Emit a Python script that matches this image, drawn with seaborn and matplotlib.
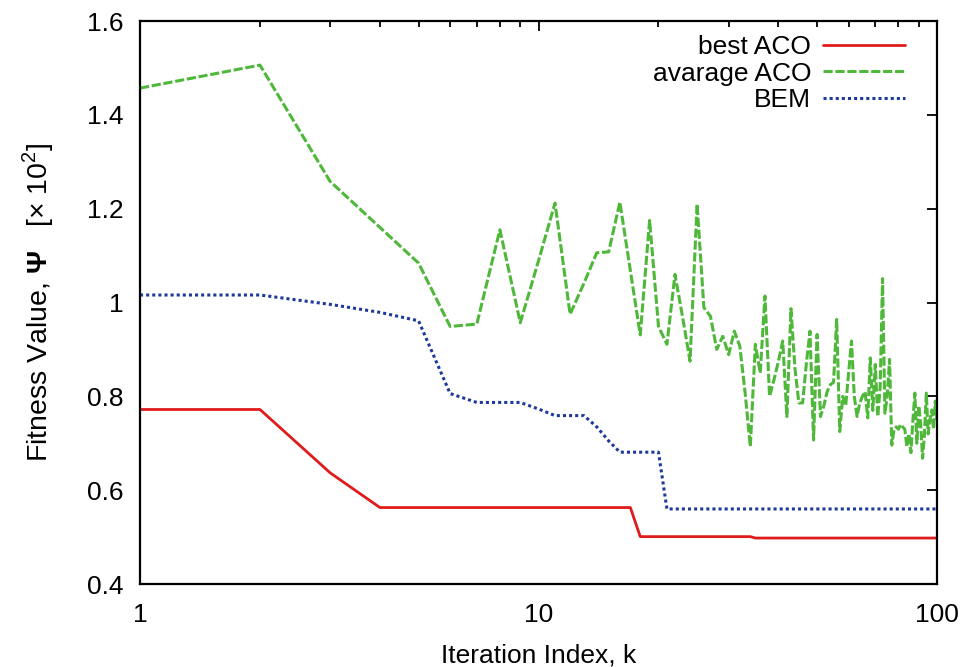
import matplotlib
matplotlib.use("Agg")
import matplotlib.pyplot as plt
from matplotlib.ticker import FixedLocator, FixedFormatter, NullFormatter
import pandas as pd
import seaborn as sns

# Iteration index k = 1 .. 100
iterations = list(range(1, 101))

# Fitness value (x 10^2) of the best ant per iteration
best_aco = [
    0.772, 0.772, 0.637, 0.563, 0.563, 0.563, 0.563, 0.563, 0.563, 0.563,
    0.563, 0.563, 0.563, 0.563, 0.563, 0.563, 0.563, 0.501, 0.501, 0.501,
    0.501, 0.501, 0.501, 0.501, 0.501, 0.501, 0.501, 0.501, 0.501, 0.501,
    0.501, 0.501, 0.501, 0.501, 0.498, 0.498, 0.498, 0.498, 0.498, 0.498,
    0.498, 0.498, 0.498, 0.498, 0.498, 0.498, 0.498, 0.498, 0.498, 0.498,
    0.498, 0.498, 0.498, 0.498, 0.498, 0.498, 0.498, 0.498, 0.498, 0.498,
    0.498, 0.498, 0.498, 0.498, 0.498, 0.498, 0.498, 0.498, 0.498, 0.498,
    0.498, 0.498, 0.498, 0.498, 0.498, 0.498, 0.498, 0.498, 0.498, 0.498,
    0.498, 0.498, 0.498, 0.498, 0.498, 0.498, 0.498, 0.498, 0.498, 0.498,
    0.498, 0.498, 0.498, 0.498, 0.498, 0.498, 0.498, 0.498, 0.498, 0.498,
]

# Average fitness of the colony per iteration
avg_aco = [
    1.457, 1.506, 1.258, 1.160, 1.084, 0.949, 0.954, 1.155, 0.957, 1.089,
    1.212, 0.975, 1.041, 1.106, 1.108, 1.214, 1.068, 0.931, 1.175, 0.949,
    0.911, 1.060, 0.968, 0.875, 1.210, 0.989, 0.971, 0.900, 0.928, 0.889,
    0.939, 0.907, 0.807, 0.693, 0.911, 0.850, 1.014, 0.800, 0.836, 0.875,
    0.918, 0.757, 0.987, 0.860, 0.786, 0.786, 0.870, 0.939, 0.707, 0.932,
    0.757, 0.780, 0.810, 0.825, 0.830, 0.964, 0.725, 0.800, 0.780, 0.850,
    0.918, 0.800, 0.757, 0.786, 0.800, 0.810, 0.754, 0.882, 0.770, 0.868,
    0.757, 0.820, 1.051, 0.764, 0.800, 0.879, 0.696, 0.729, 0.735, 0.730,
    0.740, 0.735, 0.730, 0.693, 0.720, 0.680, 0.750, 0.807, 0.700, 0.780,
    0.740, 0.668, 0.720, 0.807, 0.720, 0.750, 0.771, 0.730, 0.790, 0.750,
]

# Fitness value obtained with BEM per iteration
bem = [
    1.016, 1.016, 0.996, 0.979, 0.961, 0.806, 0.787, 0.787, 0.787, 0.773,
    0.759, 0.759, 0.759, 0.735, 0.705, 0.681, 0.681, 0.681, 0.681, 0.681,
    0.560, 0.560, 0.560, 0.560, 0.560, 0.560, 0.560, 0.560, 0.560, 0.560,
    0.560, 0.560, 0.560, 0.560, 0.560, 0.560, 0.560, 0.560, 0.560, 0.560,
    0.560, 0.560, 0.560, 0.560, 0.560, 0.560, 0.560, 0.560, 0.560, 0.560,
    0.560, 0.560, 0.560, 0.560, 0.560, 0.560, 0.560, 0.560, 0.560, 0.560,
    0.560, 0.560, 0.560, 0.560, 0.560, 0.560, 0.560, 0.560, 0.560, 0.560,
    0.560, 0.560, 0.560, 0.560, 0.560, 0.560, 0.560, 0.560, 0.560, 0.560,
    0.560, 0.560, 0.560, 0.560, 0.560, 0.560, 0.560, 0.560, 0.560, 0.560,
    0.560, 0.560, 0.560, 0.560, 0.560, 0.560, 0.560, 0.560, 0.560, 0.560,
]

series_names = ["best ACO", "avarage ACO", "BEM"]
x_ticks = [1, 10, 100]
x_tick_labels = ["1", "10", "100"]
y_ticks = [0.4, 0.6, 0.8, 1.0, 1.2, 1.4, 1.6]
y_tick_labels = ["0.4", "0.6", "0.8", "1", "1.2", "1.4", "1.6"]

df = pd.DataFrame({
    "k": iterations * 3,
    "fitness": best_aco + avg_aco + bem,
    "series": [series_names[0]] * len(iterations)
    + [series_names[1]] * len(iterations)
    + [series_names[2]] * len(iterations),
})

sns.set_style("white")
plt.rcParams["font.family"] = ["Liberation Sans", "DejaVu Sans"]
plt.rcParams["mathtext.fontset"] = "custom"
plt.rcParams["mathtext.rm"] = "Liberation Sans"
plt.rcParams["mathtext.bf"] = "Liberation Sans:bold"
plt.rcParams["text.color"] = "black"
plt.rcParams["axes.labelcolor"] = "black"
plt.rcParams["xtick.color"] = "black"
plt.rcParams["ytick.color"] = "black"

FS = 19
colors = {"best ACO": "#e01b1b", "avarage ACO": "#4fb83a", "BEM": "#1c3a98"}
styles = {"best ACO": "-", "avarage ACO": (0, (3, 0.9)), "BEM": (0, (1, 1))}
widths = {"best ACO": 2.0, "avarage ACO": 2.2, "BEM": 2.2}

fig = plt.figure(figsize=(9.67, 6.67), dpi=100)
ax = fig.add_axes([0.1448, 0.1244, 0.8242, 0.8441])

for name in series_names:
    sns.lineplot(
        data=df[df["series"] == name], x="k", y="fitness", ax=ax,
        color=colors[name], linestyle=styles[name], linewidth=widths[name],
        label=name, estimator=None, sort=True,
    )

ax.set_xscale("log")
ax.set_xlim(1, 100)
ax.set_ylim(0.4, 1.6)

ax.xaxis.set_major_locator(FixedLocator(x_ticks))
ax.xaxis.set_major_formatter(FixedFormatter(x_tick_labels))
ax.xaxis.set_minor_locator(FixedLocator([2, 3, 4, 5, 6, 7, 8, 9,
                                         20, 30, 40, 50, 60, 70, 80, 90]))
ax.xaxis.set_minor_formatter(NullFormatter())
ax.yaxis.set_major_locator(FixedLocator(y_ticks))
ax.yaxis.set_major_formatter(FixedFormatter(y_tick_labels))

ax.tick_params(which="both", direction="in", top=True, right=True,
               labelsize=FS, color="black", width=1.3)
ax.tick_params(which="major", length=7)
ax.tick_params(which="minor", length=4)
ax.tick_params(axis="x", which="major", pad=13.5)
ax.tick_params(axis="y", which="major", pad=12)

for sp in ax.spines.values():
    sp.set_linewidth(1.6)
    sp.set_color("black")

ax.set_xlabel("Iteration Index, k", fontsize=FS, labelpad=12)
ax.set_ylabel(r"Fitness Value, $\mathbf{\Psi}$   [$\times$ 10$^{2}$]",
              fontsize=20.5, labelpad=22)

handles, labels = ax.get_legend_handles_labels()
ax.legend(handles, labels, loc="upper right", bbox_to_anchor=(0.9598, 0.975),
          frameon=False, markerfirst=False,
          fontsize=FS, handlelength=3.1, handletextpad=0.45, labelspacing=0.1,
          borderaxespad=0.0, borderpad=0.0)

fig.savefig("out.png", dpi=100)
